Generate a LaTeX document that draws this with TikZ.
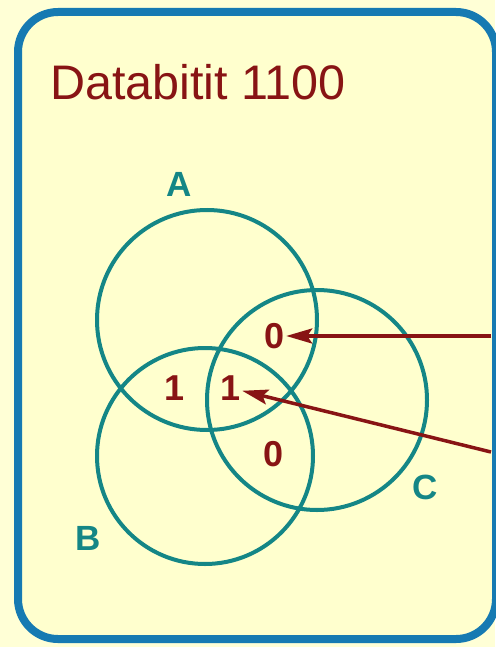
\documentclass[tikz,border=0pt]{standalone}
\usepackage{fontspec}
\setmainfont{Liberation Sans}
\usepackage{tikz}
\usetikzlibrary{arrows.meta, positioning}
\definecolor{paper}{RGB}{255,255,214}
\definecolor{card}{RGB}{255,255,206}
\definecolor{frameblue}{RGB}{22,122,178}
\definecolor{ring}{RGB}{20,134,134}
\definecolor{wine}{RGB}{136,20,20}
\tikzstyle{setring} = [circle, draw=ring, line width=4pt, minimum size=220pt, inner sep=0pt]
\tikzstyle{setname} = [text=ring, font=\fontsize{35}{35}\selectfont\bfseries, inner sep=0pt]
\tikzstyle{bit} = [text=wine, font=\fontsize{36}{36}\selectfont\bfseries, inner sep=1pt]
\tikzstyle{arrow2} = [line width=3.5pt, draw=wine, -{Stealth[length=26pt, width=15pt, inset=5pt]}]

\begin{document}
\begin{tikzpicture}[x=1pt, y=-1pt]
            \useasboundingbox (0,0) rectangle (495,647);
            \fill[paper] (0,0) rectangle (495,647);
            \draw[frameblue, line width=8pt, rounded corners=40pt, fill=card] (18,12) rectangle (496,639);

            % Nodes
            \node (title) [anchor=base west, text=wine, font=\fontsize{48.5}{48.5}\selectfont, inner sep=0pt] at (50,100) {Databitit 1100};

            \node (A) [setring] at (207,320) {};
            \node (C) [setring] at (317,400) {};
            \node (B) [setring, minimum size=216pt] at (205,456) {};

            \node (nameA) [setname] at (179,184) {A};
            \node (nameB) [setname] at (88,538) {B};
            \node (nameC) [setname] at (425,487) {C};

            \node (bitAC) [bit] at (275,336) {0};
            \node (bitAB) [bit] at (175,388) {1};
            \node (bitABC) [bit] at (231,388) {1};
            \node (bitBC) [bit] at (274,454) {0};

            \coordinate (srcAC) at (491,336);
            \coordinate (srcABC) at (491,452);

            % Edges
            \draw [arrow2] (srcAC) -- (bitAC);
            \draw [arrow2] (srcABC) -- (bitABC);
        \end{tikzpicture}
\end{document}
